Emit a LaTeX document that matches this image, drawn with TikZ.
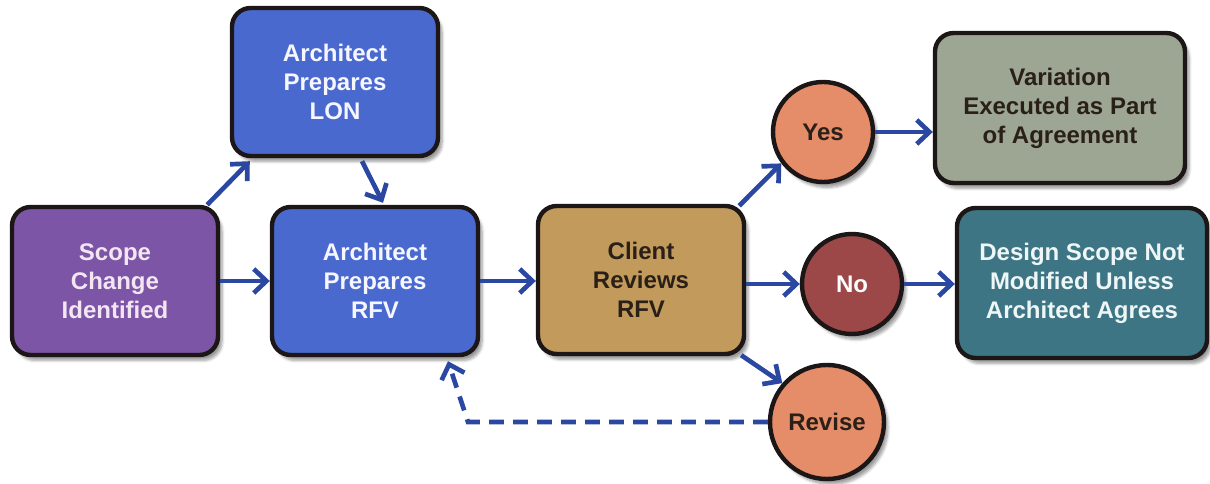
\documentclass[tikz,border=0pt]{standalone}
\usepackage{fontspec}
\setmainfont{Liberation Sans}
\usetikzlibrary{arrows.meta,calc,shadows.blur}

\definecolor{edge}{HTML}{1C1616}
\definecolor{flow}{HTML}{2A47A2}
\definecolor{purplefill}{HTML}{7D55A6}
\definecolor{purpletext}{HTML}{F3E6F3}
\definecolor{bluefill}{HTML}{4A69CF}
\definecolor{bluetext}{HTML}{F5F6FF}
\definecolor{tanfill}{HTML}{C29A5C}
\definecolor{darktext}{HTML}{2A2018}
\definecolor{salmon}{HTML}{E58C68}
\definecolor{maroon}{HTML}{9C4848}
\definecolor{sage}{HTML}{9CA692}
\definecolor{teal}{HTML}{3D7585}
\definecolor{tealtext}{HTML}{EEF6F6}

\begin{document}
\begin{tikzpicture}[x=0.75pt,y=-0.75pt,
  label font/.style={font=\bfseries\fontsize{18}{21.75}\selectfont},
  softshadow/.style={blur shadow={shadow xshift=3pt, shadow yshift=-4pt,
      shadow opacity=40, shadow blur steps=6}},
  box/.style={draw=edge, line width=3.3pt, rounded corners=14pt,
      minimum width=154.5pt, minimum height=111pt, align=center,
      inner sep=2pt, label font, softshadow},
  widebox/.style={box, minimum width=187.5pt, minimum height=112.5pt},
  disc/.style={circle, draw=edge, line width=3.3pt, minimum size=75pt,
      inner sep=0pt, align=center, label font, softshadow},
  arr/.style={draw=flow, line width=3.5pt,
      -{Straight Barb[length=9.5pt,width=18pt,line width=3.5pt]}},
  dasharr/.style={arr, dash pattern=on 11pt off 7pt}
]
\useasboundingbox (0,0) rectangle (1210,484);

% process boxes
\node[box, fill=purplefill, text=purpletext] (scope) at (115,281) {Scope\\Change\\Identified};
\node[box, fill=bluefill, text=bluetext] (lon) at (335,82) {Architect\\Prepares\\LON};
\node[box, fill=bluefill, text=bluetext] (rfv) at (375,281) {Architect\\Prepares\\RFV};
\node[box, fill=tanfill, text=darktext] (client) at (641,280) {Client\\Reviews\\RFV};
\node[widebox, fill=sage, text=darktext] (variation) at (1060,108) {Variation\\Executed as Part\\of Agreement};
\node[widebox, fill=teal, text=tealtext] (design) at (1082,283) {Design Scope Not\\Modified Unless\\Architect Agrees};

% decision outcomes
\node[disc, fill=salmon, text=darktext] (yes) at (823,132) {Yes};
\node[disc, fill=maroon, text=white] (no) at (852,284) {No};
\node[disc, fill=salmon, text=darktext, minimum size=85.5pt] (revise) at (827,422) {Revise};

% connectors
\draw[arr] (scope) -- (rfv);
\draw[arr] ($(scope.north east)+(-13,0)$) -- ($(lon.south west)+(20,3)$);
\draw[arr] ($(lon.south)+(27,3)$) -- ($(rfv.north)+(8,-2)$);
\draw[arr] (rfv.east) -- (rfv.east -| client.west);
\draw[arr] ($(client.north east)+(-7,2)$) -- (yes.217);
\draw[arr] (client.east |- no) -- (no.west);
\draw[arr] ($(client.south east)+(-5,-1)$) -- (revise.139);
\draw[arr] (yes.east) -- (yes -| variation.west);
\draw[arr] (no.east) -- (no -| design.west);

% revision loop back to the RFV
\coordinate (loop) at (468,422);
\draw[dasharr] (revise.west) -- (loop) -- ($(rfv.south)+(73,4)$);
\end{tikzpicture}
\end{document}
